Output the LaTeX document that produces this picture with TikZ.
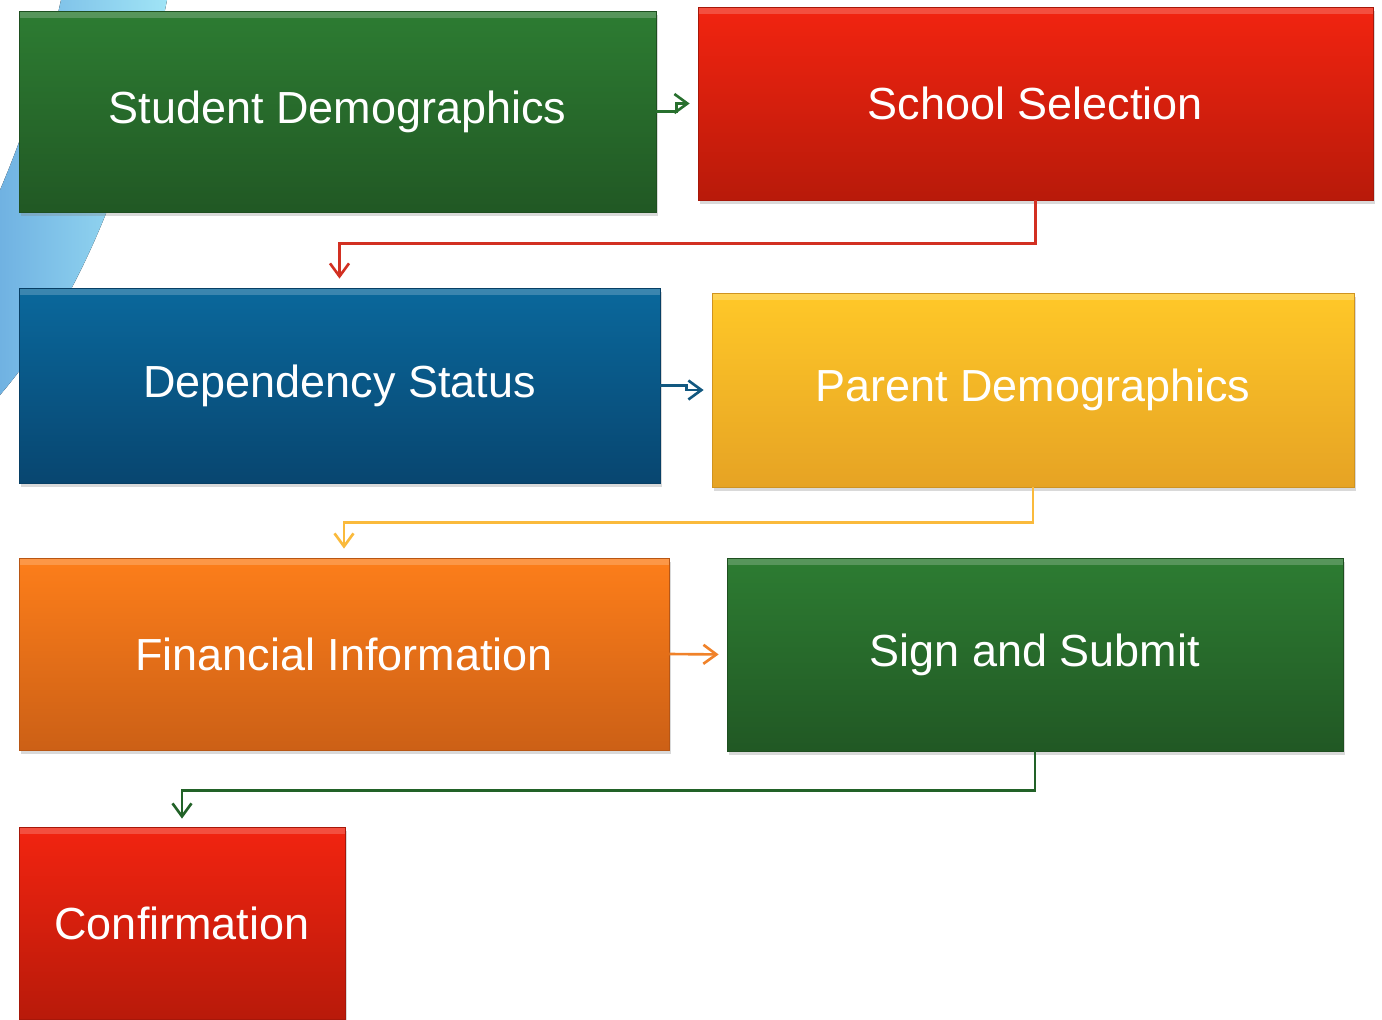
\documentclass[tikz,border=0pt]{standalone}
\usepackage{fontspec}
\setmainfont{Liberation Sans}
\usepackage{tikz}
\usepackage{xcolor}
\usetikzlibrary{arrows.meta,shadows}

\definecolor{grtop}{RGB}{45,124,50}
\definecolor{grbot}{RGB}{33,88,36}
\definecolor{rdtop}{RGB}{242,36,16}
\definecolor{rdbot}{RGB}{184,26,10}
\definecolor{bltop}{RGB}{10,104,156}
\definecolor{blbot}{RGB}{8,70,112}
\definecolor{yltop}{RGB}{255,200,40}
\definecolor{ylbot}{RGB}{230,163,36}
\definecolor{ortop}{RGB}{253,126,26}
\definecolor{orbot}{RGB}{204,96,22}
\definecolor{arrgreen}{RGB}{40,112,46}
\definecolor{arrred}{RGB}{210,48,34}
\definecolor{arrblue}{RGB}{18,88,128}
\definecolor{arryellow}{RGB}{250,186,60}
\definecolor{arrorange}{RGB}{240,130,42}
\definecolor{arrdkgreen}{RGB}{34,98,40}
\definecolor{swlight}{RGB}{160,228,246}
\definecolor{swdark}{RGB}{112,178,226}

\tikzset{
  stepbox/.style={draw=#1bot!90!black, line width=0.5pt, top color=#1top, bottom color=#1bot,
    text=white, font=\fontsize{25.6}{30}\selectfont, inner sep=0pt,
    drop shadow={opacity=0.3, shadow xshift=0.04cm, shadow yshift=-0.08cm},
    path picture={\fill[white,opacity=0.2] (path picture bounding box.north west) rectangle
      ([yshift=-0.14cm]path picture bounding box.north east);}},
  flow/.style={draw=#1, line width=1.5pt, -{Straight Barb[length=0.26cm,width=0.38cm,line width=1.5pt]}}
}

\begin{document}
\begin{tikzpicture}[x=0.02cm, y=-0.02cm]
\useasboundingbox (0,0) rectangle (1382,1019);
%% swoosh
\fill[left color=swdark, right color=swlight] (61,0) -- (167,0) .. controls (140,140) and (90,290) .. (0,395)
  -- (0,190) .. controls (30,120) and (50,50) .. (61,0) -- cycle;
%% boxes
\node[stepbox=gr, minimum width=12.74cm, minimum height=4.02cm] (sd) at (337.5,111.5) {Student Demographics};
\node[stepbox=rd, minimum width=13.5cm, minimum height=3.86cm] (ss) at (1035.5,103.5) {School Selection};
\node[stepbox=bl, minimum width=12.82cm, minimum height=3.9cm] (ds) at (339.5,385.5) {Dependency Status};
\node[stepbox=yl, minimum width=12.84cm, minimum height=3.88cm] (pd) at (1033,390) {Parent Demographics};
\node[stepbox=or, minimum width=13cm, minimum height=3.84cm] (fi) at (344,654) {Financial Information};
\node[stepbox=gr, minimum width=12.32cm, minimum height=3.86cm] (sas) at (1035,654.5) {Sign and Submit};
\node[stepbox=rd, minimum width=6.52cm, minimum height=3.84cm] (conf) at (182,923) {Confirmation};
%% connectors
\draw[flow=arrgreen, shorten >=0.16cm] (sd.east) -- ++(20,0) |- (ss.west);
\draw[flow=arrred, shorten >=0.18cm] (ss.south) -- ++(0,43) -| (ds.north);
\draw[flow=arrblue, shorten >=0.16cm] (ds.east) -- ++(26,0) |- (pd.west);
\draw[flow=arryellow, shorten >=0.18cm] (pd.south) -- ++(0,35) -| (fi.north);
\draw[flow=arrorange, shorten >=0.16cm] (fi.east) -- (sas.west);
\draw[flow=arrdkgreen, shorten >=0.16cm] (sas.south) -- ++(0,39) -| (conf.north);
\end{tikzpicture}
\end{document}
